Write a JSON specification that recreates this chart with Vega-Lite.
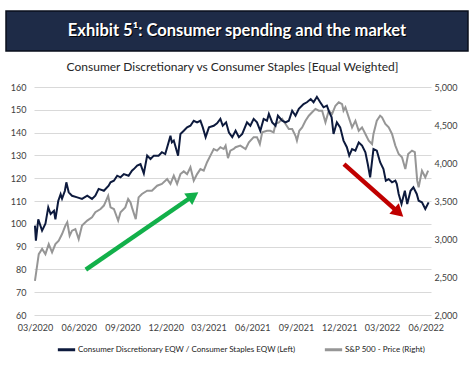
{
  "$schema": "https://vega.github.io/schema/vega-lite/v6.json",
  "padding": {"left": 5, "top": 10, "right": 5, "bottom": 5},
  "background": "white",
  "spacing": 9,
  "resolve": {"scale": {"color": "independent"}},
  "config": {
    "font": "Lato",
    "view": {"stroke": null},
    "axis": {"labelFont": "Lato", "labelFontSize": 9, "labelColor": "#404040", "domain": false, "ticks": false, "title": null},
    "legend": {"labelFont": "Lato"}
  },
  "datasets": {
    "ratio": [
      {"date":"2020-03-01","v":99.2},{"date":"2020-03-03","v":92.6},{"date":"2020-03-08","v":102},{"date":"2020-03-16","v":97},
      {"date":"2020-03-23","v":100},{"date":"2020-03-29","v":107.2},{"date":"2020-04-03","v":104.3},{"date":"2020-04-10","v":105.7},
      {"date":"2020-04-13","v":102},{"date":"2020-04-19","v":110},{"date":"2020-04-24","v":113},{"date":"2020-04-27","v":111},
      {"date":"2020-05-03","v":114.5},{"date":"2020-05-06","v":118.2},{"date":"2020-05-11","v":113.8},{"date":"2020-05-18","v":112.3},
      {"date":"2020-05-29","v":111.6},{"date":"2020-06-08","v":110.9},{"date":"2020-06-19","v":112.3},{"date":"2020-06-29","v":110.9},
      {"date":"2020-07-06","v":112.3},{"date":"2020-07-13","v":115.3},{"date":"2020-07-24","v":114.5},{"date":"2020-08-03","v":116.7},
      {"date":"2020-08-07","v":118.2},{"date":"2020-08-14","v":118.9},{"date":"2020-08-21","v":121.1},{"date":"2020-08-28","v":120.4},
      {"date":"2020-09-04","v":121.8},{"date":"2020-09-14","v":121.1},{"date":"2020-09-21","v":123.3},{"date":"2020-09-25","v":124},
      {"date":"2020-10-02","v":125.5},{"date":"2020-10-09","v":126.2},{"date":"2020-10-16","v":122.1},{"date":"2020-10-23","v":129.9},
      {"date":"2020-10-30","v":128.4},{"date":"2020-11-06","v":129.9},{"date":"2020-11-16","v":129.9},{"date":"2020-11-23","v":131.4},
      {"date":"2020-11-30","v":130.6},{"date":"2020-12-07","v":135.7},{"date":"2020-12-11","v":138.6},{"date":"2020-12-14","v":135.7},
      {"date":"2020-12-18","v":136.5},{"date":"2020-12-27","v":129.9},{"date":"2021-01-01","v":139.4},{"date":"2021-01-08","v":140.8},
      {"date":"2021-01-15","v":142.3},{"date":"2021-01-22","v":143},{"date":"2021-01-29","v":145.2},{"date":"2021-02-05","v":144.5},
      {"date":"2021-02-12","v":145.2},{"date":"2021-02-17","v":142.3},{"date":"2021-02-23","v":138},{"date":"2021-03-02","v":142.3},
      {"date":"2021-03-12","v":143},{"date":"2021-03-19","v":144.1},{"date":"2021-03-26","v":146},{"date":"2021-03-31","v":143},
      {"date":"2021-04-07","v":144.5},{"date":"2021-04-13","v":140},{"date":"2021-04-20","v":138},{"date":"2021-04-27","v":140.8},
      {"date":"2021-05-04","v":138},{"date":"2021-05-11","v":139.4},{"date":"2021-05-21","v":144.5},{"date":"2021-05-28","v":143},
      {"date":"2021-06-04","v":146},{"date":"2021-06-11","v":144.5},{"date":"2021-06-18","v":140.8},{"date":"2021-06-25","v":146},
      {"date":"2021-07-02","v":145.2},{"date":"2021-07-06","v":148.2},{"date":"2021-07-13","v":144.5},{"date":"2021-07-20","v":143},
      {"date":"2021-07-25","v":147.4},{"date":"2021-08-03","v":145.2},{"date":"2021-08-10","v":144.5},{"date":"2021-08-17","v":145.2},
      {"date":"2021-08-24","v":149.6},{"date":"2021-08-31","v":147.4},{"date":"2021-09-07","v":150.4},{"date":"2021-09-17","v":152.5},
      {"date":"2021-09-24","v":153.3},{"date":"2021-10-02","v":154.7},{"date":"2021-10-08","v":153.3},{"date":"2021-10-15","v":155.7},
      {"date":"2021-10-22","v":153.3},{"date":"2021-10-29","v":151.1},{"date":"2021-11-05","v":151.8},{"date":"2021-11-10","v":149},
      {"date":"2021-11-15","v":146.7},{"date":"2021-11-19","v":139.4},{"date":"2021-11-26","v":144.5},{"date":"2021-12-03","v":142.3},
      {"date":"2021-12-10","v":136.5},{"date":"2021-12-17","v":133.6},{"date":"2021-12-22","v":129.9},{"date":"2021-12-28","v":132.8},
      {"date":"2022-01-04","v":132.1},{"date":"2022-01-11","v":135.7},{"date":"2022-01-18","v":134.3},{"date":"2022-01-25","v":131.4},
      {"date":"2022-01-30","v":126.2},{"date":"2022-02-04","v":120.4},{"date":"2022-02-11","v":132.8},{"date":"2022-02-18","v":132.1},
      {"date":"2022-02-25","v":127},{"date":"2022-03-04","v":124},{"date":"2022-03-09","v":118.9},{"date":"2022-03-15","v":119.6},
      {"date":"2022-03-22","v":118.2},{"date":"2022-03-29","v":118.9},{"date":"2022-04-01","v":117.5},{"date":"2022-04-05","v":113.1},
      {"date":"2022-04-11","v":108.7},{"date":"2022-04-18","v":114.5},{"date":"2022-04-23","v":108.7},{"date":"2022-04-30","v":114.5},
      {"date":"2022-05-06","v":116},{"date":"2022-05-13","v":113.1},{"date":"2022-05-17","v":110.1},{"date":"2022-05-24","v":109.4},
      {"date":"2022-05-31","v":106.5},{"date":"2022-06-07","v":109.4}
    ],
    "sp": [
      {"date":"2020-03-01","v":2450},{"date":"2020-03-04","v":2582},{"date":"2020-03-09","v":2801},{"date":"2020-03-16","v":2870},
      {"date":"2020-03-23","v":2801},{"date":"2020-03-30","v":2933},{"date":"2020-04-06","v":2825},{"date":"2020-04-13","v":2933},
      {"date":"2020-04-20","v":2978},{"date":"2020-04-27","v":3065},{"date":"2020-05-04","v":3176},{"date":"2020-05-08","v":3221},
      {"date":"2020-05-13","v":3044},{"date":"2020-05-18","v":3110},{"date":"2020-05-25","v":3131},{"date":"2020-06-01","v":2999},
      {"date":"2020-06-08","v":3176},{"date":"2020-06-19","v":3242},{"date":"2020-06-29","v":3287},{"date":"2020-07-06","v":3353},
      {"date":"2020-07-17","v":3395},{"date":"2020-07-24","v":3440},{"date":"2020-08-02","v":3569},{"date":"2020-08-07","v":3416},
      {"date":"2020-08-14","v":3395},{"date":"2020-08-23","v":3242},{"date":"2020-08-28","v":3353},{"date":"2020-09-07","v":3416},
      {"date":"2020-09-13","v":3527},{"date":"2020-09-18","v":3482},{"date":"2020-09-21","v":3416},{"date":"2020-09-29","v":3260},
      {"date":"2020-10-05","v":3548},{"date":"2020-10-12","v":3593},{"date":"2020-10-23","v":3635},{"date":"2020-11-02","v":3635},
      {"date":"2020-11-13","v":3701},{"date":"2020-11-23","v":3725},{"date":"2020-12-04","v":3788},{"date":"2020-12-11","v":3725},
      {"date":"2020-12-18","v":3833},{"date":"2020-12-25","v":3725},{"date":"2021-01-01","v":3854},{"date":"2021-01-08","v":3890},
      {"date":"2021-01-15","v":3854},{"date":"2021-01-22","v":3944},{"date":"2021-01-29","v":3767},{"date":"2021-02-05","v":3854},
      {"date":"2021-02-12","v":3920},{"date":"2021-02-19","v":3899},{"date":"2021-02-26","v":4010},{"date":"2021-03-05","v":4097},
      {"date":"2021-03-12","v":4184},{"date":"2021-03-19","v":4163},{"date":"2021-03-26","v":4208},{"date":"2021-04-02","v":4184},
      {"date":"2021-04-06","v":4229},{"date":"2021-04-11","v":4064},{"date":"2021-04-16","v":4163},{"date":"2021-04-23","v":4184},
      {"date":"2021-04-27","v":4208},{"date":"2021-05-07","v":4229},{"date":"2021-05-18","v":4184},{"date":"2021-05-25","v":4271},
      {"date":"2021-06-04","v":4340},{"date":"2021-06-11","v":4340},{"date":"2021-06-17","v":4250},{"date":"2021-06-22","v":4403},
      {"date":"2021-07-02","v":4424},{"date":"2021-07-09","v":4424},{"date":"2021-07-16","v":4403},{"date":"2021-07-20","v":4514},
      {"date":"2021-07-27","v":4535},{"date":"2021-08-03","v":4580},{"date":"2021-08-10","v":4514},{"date":"2021-08-17","v":4448},
      {"date":"2021-08-24","v":4448},{"date":"2021-08-31","v":4358},{"date":"2021-09-03","v":4295},{"date":"2021-09-08","v":4424},
      {"date":"2021-09-14","v":4469},{"date":"2021-09-21","v":4556},{"date":"2021-09-28","v":4622},{"date":"2021-10-05","v":4667},
      {"date":"2021-10-12","v":4712},{"date":"2021-10-19","v":4688},{"date":"2021-10-26","v":4688},{"date":"2021-11-02","v":4535},
      {"date":"2021-11-09","v":4688},{"date":"2021-11-16","v":4646},{"date":"2021-11-23","v":4754},{"date":"2021-11-30","v":4799},
      {"date":"2021-12-07","v":4775},{"date":"2021-12-10","v":4688},{"date":"2021-12-14","v":4733},{"date":"2021-12-21","v":4601},
      {"date":"2021-12-28","v":4469},{"date":"2022-01-04","v":4556},{"date":"2022-01-11","v":4424},{"date":"2022-01-18","v":4469},
      {"date":"2022-01-25","v":4382},{"date":"2022-02-01","v":4295},{"date":"2022-02-08","v":4250},{"date":"2022-02-11","v":4382},
      {"date":"2022-02-18","v":4556},{"date":"2022-02-25","v":4622},{"date":"2022-03-01","v":4601},{"date":"2022-03-08","v":4514},
      {"date":"2022-03-15","v":4469},{"date":"2022-03-22","v":4382},{"date":"2022-03-29","v":4229},{"date":"2022-04-05","v":4118},
      {"date":"2022-04-12","v":4076},{"date":"2022-04-19","v":3920},{"date":"2022-04-25","v":4118},{"date":"2022-05-03","v":4163},
      {"date":"2022-05-09","v":4142},{"date":"2022-05-14","v":3767},{"date":"2022-05-17","v":3680},{"date":"2022-05-24","v":3899},
      {"date":"2022-05-31","v":3812},{"date":"2022-06-06","v":3899}
    ]
  },
  "vconcat": [
    {
      "width": 462,
      "height": 40,
      "view": {"fill": "#1e2b47", "stroke": "#0a0f1c", "strokeWidth": 1.5},
      "data": {"values": [{"t": "Exhibit 5¹: Consumer spending and the market"}]},
      "layer": [
        {"mark": {"type": "text", "font": "Lato", "fontSize": 16.5, "fontWeight": "bold", "color": "#000000", "dx": 1, "dy": 1, "align": "center", "baseline": "middle"},
         "encoding": {"text": {"field": "t"}}},
        {"mark": {"type": "text", "font": "Lato", "fontSize": 16.5, "fontWeight": "bold", "color": "#ffffff", "align": "center", "baseline": "middle"},
         "encoding": {"text": {"field": "t"}}}
      ]
    },
    {
      "spacing": 0,
      "resolve": {"scale": {"color": "independent"}},
      "hconcat": [
        {
          "width": 1,
          "height": 1,
          "data": {"values": [{"t": ""}]},
          "mark": {"type": "text"},
          "encoding": {"text": {"field": "t"}}
        },
        {
          "width": 397,
          "height": 228,
          "title": {"text": "Consumer Discretionary vs Consumer Staples [Equal Weighted]", "font": "Lato", "fontSize": 12, "fontWeight": "normal", "color": "#262626", "offset": 9},
          "resolve": {"scale": {"y": "independent"}},
          "layer": [
            {
              "data": {"name": "sp"},
              "mark": {"type": "line", "strokeWidth": 2},
              "encoding": {
                "x": {"field": "date", "type": "temporal",
                      "scale": {"domain": [{"year": 2020, "month": 2, "date": 28}, {"year": 2022, "month": 6, "date": 12}]},
                      "axis": {"format": "%m/%Y", "grid": false, "labelPadding": 8, "labelOverlap": false, "labelFlush": false,
                               "values": [{"year":2020,"month":3,"date":1},{"year":2020,"month":6,"date":1},{"year":2020,"month":9,"date":1},{"year":2020,"month":12,"date":1},{"year":2021,"month":3,"date":1},{"year":2021,"month":6,"date":1},{"year":2021,"month":9,"date":1},{"year":2021,"month":12,"date":1},{"year":2022,"month":3,"date":1},{"year":2022,"month":6,"date":1}]}},
                "y": {"field": "v", "type": "quantitative", "scale": {"domain": [2000, 5000], "nice": false, "zero": false},
                      "axis": {"orient": "right", "values": [2000, 2500, 3000, 3500, 4000, 4500, 5000], "format": ",.0f", "grid": false, "labelPadding": 3}},
                "color": {"datum": "S&P 500 - Price (Right)", "type": "nominal"}
              }
            },
            {
              "data": {"name": "ratio"},
              "mark": {"type": "line", "strokeWidth": 2},
              "encoding": {
                "x": {"field": "date", "type": "temporal"},
                "y": {"field": "v", "type": "quantitative", "scale": {"domain": [60, 160], "nice": false, "zero": false},
                      "axis": {"orient": "left", "values": [60, 70, 80, 90, 100, 110, 120, 130, 140, 150, 160], "grid": true, "gridColor": "#d9d9d9", "gridWidth": 1, "labelPadding": 8, "minExtent": 27, "maxExtent": 27}},
                "color": {"datum": "Consumer Discretionary EQW / Consumer Staples EQW (Left)", "type": "nominal",
                          "scale": {"domain": ["Consumer Discretionary EQW / Consumer Staples EQW (Left)", "S&P 500 - Price (Right)"], "range": ["#0d1a3d", "#969696"]},
                          "legend": {"title": null, "orient": "none", "legendX": 22, "legendY": 252, "direction": "horizontal", "symbolType": "stroke", "symbolStrokeWidth": 3, "symbolSize": 300, "labelFontSize": 8, "labelColor": "#222222", "labelLimit": 400, "columnPadding": 22, "labelOffset": 1}}
              }
            },
            {
              "data": {"values": [{"d1": "2020-06-16", "v1": 79.9, "d2": "2021-01-28", "v2": 112.3}]},
              "mark": {"type": "rule", "color": "#12b04a", "strokeWidth": 4.5},
              "encoding": {
                "x": {"field": "d1", "type": "temporal"},
                "x2": {"field": "d2"},
                "y": {"field": "v1", "type": "quantitative", "scale": {"domain": [60, 160], "nice": false, "zero": false}, "axis": null},
                "y2": {"field": "v2"}
              }
            },
            {
              "data": {"values": [{"d": "2021-01-28", "v": 112.3}]},
              "mark": {"type": "point", "shape": "triangle-up", "filled": true, "opacity": 1, "color": "#12b04a", "size": 200, "angle": 55.5},
              "encoding": {
                "x": {"field": "d", "type": "temporal"},
                "y": {"field": "v", "type": "quantitative", "scale": {"domain": [60, 160], "nice": false, "zero": false}, "axis": null}
              }
            },
            {
              "data": {"values": [{"d1": "2021-12-11", "v1": 126.2, "d2": "2022-04-05", "v2": 104.9}]},
              "mark": {"type": "rule", "color": "#c00000", "strokeWidth": 4.5},
              "encoding": {
                "x": {"field": "d1", "type": "temporal"},
                "x2": {"field": "d2"},
                "y": {"field": "v1", "type": "quantitative", "scale": {"domain": [60, 160], "nice": false, "zero": false}, "axis": null},
                "y2": {"field": "v2"}
              }
            },
            {
              "data": {"values": [{"d": "2022-04-05", "v": 104.9}]},
              "mark": {"type": "point", "shape": "triangle-up", "filled": true, "opacity": 1, "color": "#c00000", "size": 200, "angle": 131.6},
              "encoding": {
                "x": {"field": "d", "type": "temporal"},
                "y": {"field": "v", "type": "quantitative", "scale": {"domain": [60, 160], "nice": false, "zero": false}, "axis": null}
              }
            }
          ]
        }
      ]
    }
  ]
}
